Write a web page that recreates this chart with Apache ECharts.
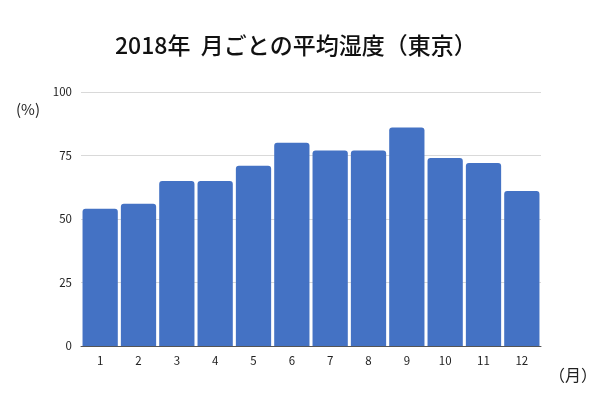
<!DOCTYPE html>
<html>
<head>
<meta charset="utf-8">
<script src="https://cdn.jsdelivr.net/npm/echarts@6/dist/echarts.min.js"></script>
<style>
  html, body { margin: 0; padding: 0; background: #fff; }
  #chart { width: 600px; height: 400px; }
</style>
</head>
<body>
<div id="chart"></div>
<script>
const months = ['1', '2', '3', '4', '5', '6', '7', '8', '9', '10', '11', '12'];
const humidity = [54, 56, 65, 65, 71, 80, 77, 77, 86, 74, 72, 61];
const chartTitle = '2018年  月ごとの平均湿度（東京）';

const chartDom = document.getElementById('chart');
const myChart = echarts.init(chartDom);
const font = '"Noto Sans CJK JP", "Noto Sans", sans-serif';

const option = {
    animation: false,
    title: {
        text: chartTitle,
        left: 110,
        top: 29,
        textStyle: {
            fontFamily: font,
            fontSize: 23,
            fontWeight: 500,
            color: '#111'
        }
    },
    grid: {
        left: 81,
        right: 59,
        top: 92,
        bottom: 54
    },
    xAxis: {
        type: 'category',
        data: months,
        axisTick: { show: false },
        axisLine: { lineStyle: { color: '#555', width: 1 } },
        axisLabel: {
            color: '#222',
            fontFamily: font,
            fontSize: 11.5,
            margin: 9
        }
    },
    yAxis: {
        type: 'value',
        min: 0,
        max: 100,
        interval: 25,
        axisLabel: {
            color: '#222',
            fontFamily: font,
            fontSize: 11.5,
            margin: 9
        },
        splitLine: { lineStyle: { color: '#d9d9d9', width: 1 } }
    },
    graphic: [
        {
            type: 'text',
            left: 16,
            top: 102,
            style: { text: '(%)', fontFamily: font, fontSize: 15, fill: '#222' }
        },
        {
            type: 'text',
            left: 549,
            top: 367,
            style: { text: '（月）', fontFamily: font, fontSize: 16, fill: '#222' }
        }
    ],
    series: [
        {
            type: 'bar',
            data: humidity,
            barCategoryGap: '8%',
            itemStyle: {
                color: '#4472C4',
                borderRadius: [3, 3, 0, 0]
            }
        }
    ]
};

myChart.setOption(option);

window.addEventListener('resize', () => {
    myChart.resize();
});
</script>
</body>
</html>
